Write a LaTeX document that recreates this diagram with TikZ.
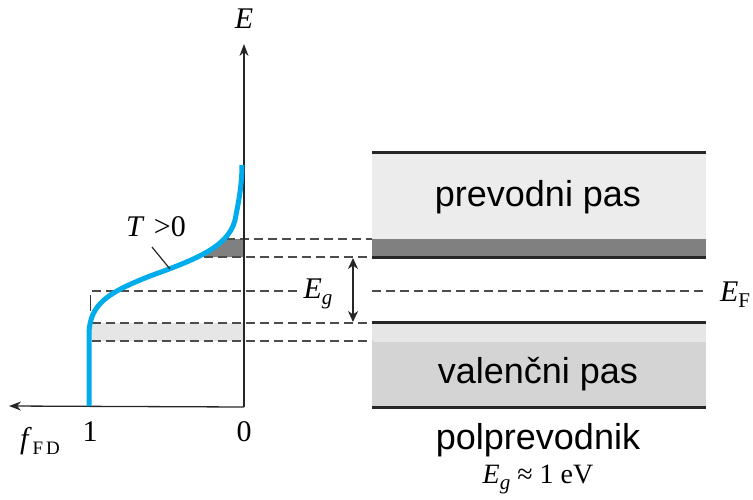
\documentclass[tikz,border=0pt]{standalone}
\usepackage{fontspec}
\newfontfamily\arialfont{Liberation Sans}
\newfontfamily\timesfont{Liberation Serif}
\usetikzlibrary{arrows.meta}
\definecolor{fdblue}{RGB}{0,172,236}
\definecolor{bandlight}{RGB}{236,236,236}
\definecolor{banddark}{RGB}{128,128,128}
\definecolor{vallight}{RGB}{230,230,230}
\definecolor{valmid}{RGB}{212,212,212}
\newcommand{\sbit}[1]{\raisebox{-6pt}{\fontsize{21}{21}\selectfont\itshape #1}}
\newcommand{\sbrm}[1]{\raisebox{-6pt}{\fontsize{21}{21}\selectfont\upshape #1}}
\tikzset{
  lvl/.style={draw=black!70, line width=1.2pt, dash pattern=on 9pt off 5pt},
  bandedge/.style={draw=black!85, line width=3pt},
  axisline/.style={draw=black!85, line width=1.3pt, -{Stealth[length=12pt,width=9pt]}},
  mathlbl/.style={inner sep=0pt, font=\timesfont\fontsize{30}{32}\selectfont},
  txtlbl/.style={inner sep=0pt, font=\arialfont\fontsize{36}{40}\selectfont},
}
\begin{document}
\begin{tikzpicture}[x=1pt,y=-1pt]
\useasboundingbox (0,0) rectangle (753,499);
% coordinates
\coordinate (O) at (244,407);
\coordinate (Etop) at (244,44);
\coordinate (Fleft) at (9,406);
% left shaded regions
\fill[banddark] (204,257) -- (226,239) -- (244,239) -- (244,257) -- cycle;
\fill[vallight] (90,323) rectangle (244,341);
% right bands
\fill[bandlight] (372,152) rectangle (706,239);
\fill[banddark] (372,239) rectangle (706,257);
\fill[vallight] (372,322) rectangle (706,342);
\fill[valmid] (372,342) rectangle (706,407);
\draw[bandedge] (372,152) -- (706,152);
\draw[bandedge] (372,257.5) -- (706,257.5);
\draw[bandedge] (372,322) -- (706,322);
\draw[bandedge] (372,407.5) -- (706,407.5);
% dashed levels
\coordinate (c1a) at (226,239); \coordinate (c1b) at (372,239);
\coordinate (c2a) at (204,257); \coordinate (c2b) at (372,257);
\coordinate (efa) at (92,291);  \coordinate (efm) at (297,291);
\coordinate (efc) at (372,291); \coordinate (efb) at (706,291);
\coordinate (v1a) at (92,323);  \coordinate (v1b) at (372,323);
\coordinate (v2a) at (92,341);  \coordinate (v2b) at (372,341);
\draw[lvl] (c1a) -- (c1b);
\draw[lvl] (c2a) -- (c2b);
\draw[lvl] (efa) -- (efm);
\draw[lvl] (efc) -- (efb);
\draw[lvl] (v1a) -- (v1b);
\draw[lvl] (v2a) -- (v2b);
% small tick
\coordinate (tk1) at (90,295); \coordinate (tk2) at (90,311);
\draw[black!80, line width=1pt] (tk1) -- (tk2);
% axes
\draw[axisline] (O) -- (Etop);
\draw[axisline] (O) -- (Fleft);
% Fermi-Dirac curve
\draw[fdblue, line width=5pt] (89,406) -- (89,335)
  .. controls (89,303) and (110,292) .. (150,276)
  .. controls (200,258) and (232,245) .. (236,215)
  .. controls (240,195) and (242,180) .. (242,165);
% T>0 pointer
\coordinate (p1) at (152,247); \coordinate (p2) at (170,269);
\draw[black!85, line width=1.2pt] (p1) -- (p2);
% Eg arrow
\coordinate (ga) at (353,258); \coordinate (gb) at (353,322);
\draw[black!85, line width=2pt, {Stealth[length=11pt,width=10pt]}-{Stealth[length=11pt,width=10pt]}] (ga) -- (gb);
% labels
\node[mathlbl] (lE) at (244,19) {\itshape E};
\node[mathlbl] (lT) at (156,227) {\itshape T\hspace{11pt}\upshape{>}0};
\node[mathlbl, anchor=base] (lEg) at (318,298) {\itshape E\sbit{g}};
\node[mathlbl, anchor=base] (lEF) at (735,301) {\itshape E\sbrm{F}};
\node[mathlbl] (l1) at (90,432) {1};
\node[mathlbl] (l0) at (244,432) {0};
\node[mathlbl, anchor=base] (lf) at (40,448) {\itshape f\hspace{4pt}\sbrm{\fontsize{19}{19}\selectfont F\hspace{3pt}D}};
\node[txtlbl] (tc) at (538,197) {prevodni pas};
\node[txtlbl] (tv) at (538,374) {valenčni pas};
\node[txtlbl] (tp) at (538,440) {polprevodnik};
\node[mathlbl, anchor=base, font=\timesfont\fontsize{28}{30}\selectfont] (tEg) at (538,483) {\itshape E\sbit{g}\upshape\ ≈ 1 eV};
\end{tikzpicture}
\end{document}
